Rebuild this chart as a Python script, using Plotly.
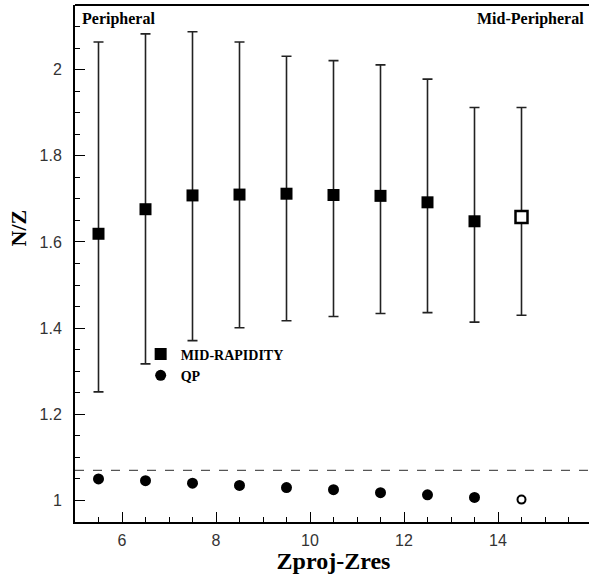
import plotly.graph_objects as go

# ---- data ----
x_bins = [5.5, 6.5, 7.5, 8.5, 9.5, 10.5, 11.5, 12.5, 13.5, 14.5]
nz_mid = [1.619, 1.676, 1.708, 1.710, 1.712, 1.709, 1.707, 1.692, 1.648, 1.658]
nz_mid_top = [2.064, 2.083, 2.088, 2.064, 2.031, 2.021, 2.011, 1.978, 1.912, 1.912]
nz_mid_bot = [1.252, 1.317, 1.371, 1.401, 1.417, 1.427, 1.434, 1.436, 1.414, 1.430]
nz_qp = [1.050, 1.046, 1.040, 1.035, 1.030, 1.025, 1.018, 1.013, 1.007, 1.002]
ref_level = 1.07
x_ticks = [6, 8, 10, 12, 14]
y_ticks = [1.0, 1.2, 1.4, 1.6, 1.8, 2.0]
y_tick_text = ["1", "1.2", "1.4", "1.6", "1.8", "2"]

err_plus = [t - v for t, v in zip(nz_mid_top, nz_mid)]
err_minus = [v - b for v, b in zip(nz_mid, nz_mid_bot)]

n_filled = 9
serif = "Liberation Serif"
sans = "Liberation Sans"

fig = go.Figure()

err_style = dict(type="data", symmetric=False, color="#222", thickness=1.6, width=5)

fig.add_trace(go.Scatter(
    x=x_bins[:n_filled], y=nz_mid[:n_filled], mode="markers", name="MID-RAPIDITY",
    marker=dict(symbol="square", size=12, color="black"),
    error_y=dict(array=err_plus[:n_filled], arrayminus=err_minus[:n_filled], **err_style),
))
fig.add_trace(go.Scatter(
    x=x_bins[n_filled:], y=nz_mid[n_filled:], mode="markers", showlegend=False,
    marker=dict(symbol="square", size=12, color="white", line=dict(color="black", width=2.5)),
    error_y=dict(array=err_plus[n_filled:], arrayminus=err_minus[n_filled:], **err_style),
))
fig.add_trace(go.Scatter(
    x=x_bins[:n_filled], y=nz_qp[:n_filled], mode="markers", name="QP",
    marker=dict(symbol="circle", size=11, color="black"),
))
fig.add_trace(go.Scatter(
    x=x_bins[n_filled:], y=nz_qp[n_filled:], mode="markers", showlegend=False,
    marker=dict(symbol="circle", size=8, color="white", line=dict(color="black", width=2)),
))

fig.add_shape(type="line", xref="paper", x0=0, x1=1, yref="y", y0=ref_level, y1=ref_level,
              line=dict(color="#555", width=1.2, dash="dash"))
# top frame line
fig.add_shape(type="line", xref="paper", x0=0, x1=1, yref="paper", y0=1, y1=1,
              line=dict(color="black", width=2))

fig.add_annotation(text="<b>Peripheral</b>", xref="paper", yref="paper", x=0.01, y=0.995,
                   xanchor="left", yanchor="top", showarrow=False,
                   font=dict(family=serif, size=16, color="black"))
fig.add_annotation(text="<b>Mid-Peripheral</b>", xref="paper", yref="paper", x=0.989, y=0.995,
                   xanchor="right", yanchor="top", showarrow=False,
                   font=dict(family=serif, size=16, color="black"))
fig.add_annotation(text="<b>N/Z</b>", xref="paper", yref="paper", x=-0.110, y=0.568,
                   xanchor="center", yanchor="middle", textangle=-90, showarrow=False,
                   font=dict(family=serif, size=22, color="black"))

fig.update_layout(
    width=592, height=574,
    margin=dict(l=75, r=0, t=5, b=52),
    paper_bgcolor="white", plot_bgcolor="white",
    showlegend=True,
    legend=dict(x=0.127, y=0.355, xanchor="left", yanchor="top",
                font=dict(family=serif, size=14, color="black", weight="bold"),
                bgcolor="rgba(0,0,0,0)", itemwidth=30, tracegroupgap=0),
    xaxis=dict(
        range=[5, 16], showgrid=False, zeroline=False,
        showline=True, linecolor="black", linewidth=2,
        ticks="inside", ticklen=10, tickwidth=1.2, tickcolor="black",
        tickvals=x_ticks, ticklabelstandoff=3,
        tickfont=dict(family=sans, size=16, color="#333"),
        minor=dict(dtick=0.5, ticks="inside", ticklen=5, tickwidth=1.2, tickcolor="black", showgrid=False),
        title=dict(text="<b>Zproj-Zres</b>", font=dict(family=serif, size=24, color="black"), standoff=4),
    ),
    yaxis=dict(
        range=[0.95, 2.15], showgrid=False, zeroline=False,
        showline=True, linecolor="black", linewidth=2,
        ticks="inside", ticklen=10, tickwidth=1.2, tickcolor="black",
        tickvals=y_ticks, ticktext=y_tick_text, ticklabelstandoff=8,
        tickfont=dict(family=sans, size=16, color="#333"),
        minor=dict(dtick=0.05, tick0=0, ticks="inside", ticklen=5, tickwidth=1.2, tickcolor="black", showgrid=False),
    ),
)

fig.write_html("out.html", config={"displayModeBar": False},
               post_script="document.documentElement.style.overflow='hidden';document.body.style.margin='0';document.body.style.overflow='hidden';")
